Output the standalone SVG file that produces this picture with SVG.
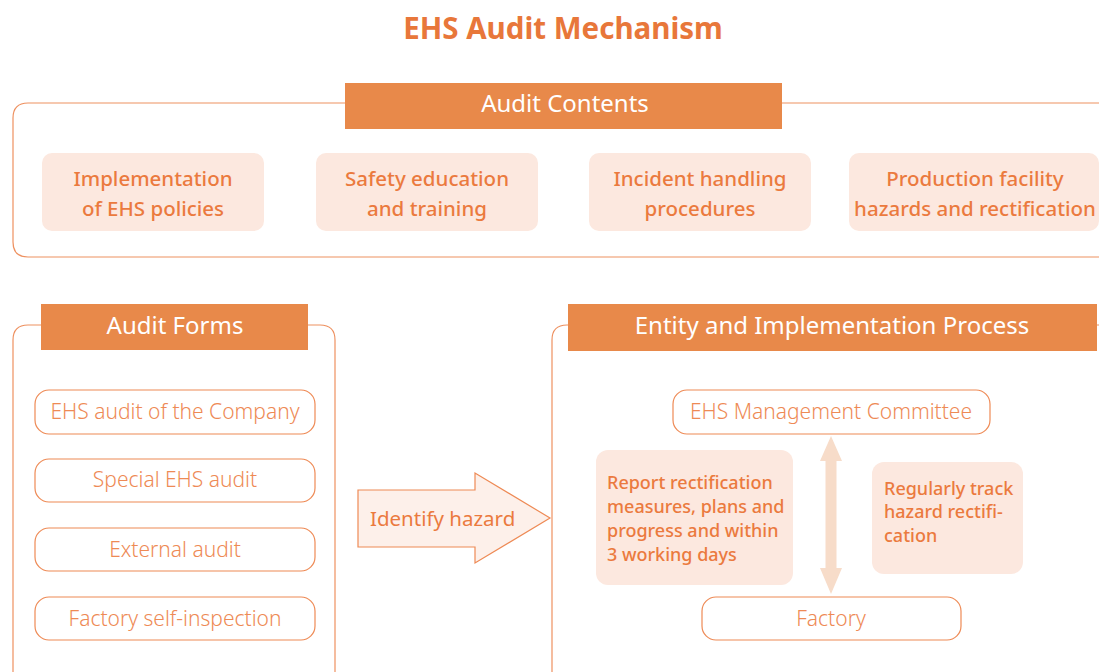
<svg xmlns="http://www.w3.org/2000/svg" width="1099" height="672" viewBox="0 0 1099 672">
<style>
text{font-family:"Noto Sans","Open Sans",sans-serif}
.title{font-size:29.5px;font-weight:bold;fill:#E8773A}
.frame{fill:none;stroke:#EE9160;stroke-width:1.2}
.hdr{fill:#E8894A}
.hdrt{font-size:24px;fill:#fff;text-anchor:middle}
.card{fill:#FCE8DF}
.cardt{font-size:20.5px;fill:#EB7A3E;text-anchor:middle;font-weight:500}
.item{fill:#fff;stroke:#EE8A55;stroke-width:1.2}
.itemt{font-size:21px;fill:#EE8A55;text-anchor:middle;font-weight:300}
.note{font-size:18px;fill:#EB7A3E;font-weight:500}
</style>
<text class="title" x="563" y="39" text-anchor="middle">EHS Audit Mechanism</text>

<g id="audit-contents">
<path class="frame" d="M345,103 H28 Q13,103 13,118 V242 Q13,257 28,257 H1099 M782,103 H1099"/>
<rect class="hdr" x="345" y="83" width="437" height="46"/>
<text class="hdrt" x="565" y="112">Audit Contents</text>
</g>
<g id="content-1">
<rect class="card" x="42" y="153" width="222" height="78" rx="10"/>
<text class="cardt" x="153" y="186">Implementation</text>
<text class="cardt" x="153" y="216">of EHS policies</text>
</g>
<g id="content-2">
<rect class="card" x="316" y="153" width="222" height="78" rx="10"/>
<text class="cardt" x="427" y="186">Safety education</text>
<text class="cardt" x="427" y="216">and training</text>
</g>
<g id="content-3">
<rect class="card" x="589" y="153" width="222" height="78" rx="10"/>
<text class="cardt" x="700" y="186">Incident handling</text>
<text class="cardt" x="700" y="216">procedures</text>
</g>
<g id="content-4">
<rect class="card" x="849" y="153" width="250" height="78" rx="10"/>
<text class="cardt" x="975" y="186">Production facility</text>
<text class="cardt" x="975" y="216">hazards and rectification</text>
</g>

<g id="audit-forms">
<path class="frame" d="M41,325 H28 Q13,325 13,340 V672 M335,672 V340 Q335,325 320,325 H308"/>
<rect class="hdr" x="41" y="304" width="267" height="46"/>
<text class="hdrt" x="175" y="334">Audit Forms</text>
</g>
<g id="form-1">
<rect class="item" x="35" y="390" width="280" height="44" rx="14"/>
<text class="itemt" x="175" y="419">EHS audit of the Company</text>
</g>
<g id="form-2">
<rect class="item" x="35" y="459" width="280" height="43" rx="14"/>
<text class="itemt" x="175" y="487">Special EHS audit</text>
</g>
<g id="form-3">
<rect class="item" x="35" y="528" width="280" height="43" rx="14"/>
<text class="itemt" x="175" y="557">External audit</text>
</g>
<g id="form-4">
<rect class="item" x="35" y="597" width="280" height="43" rx="14"/>
<text class="itemt" x="175" y="626">Factory self-inspection</text>
</g>

<g id="entity-process">
<path class="frame" d="M568,325 H567 Q552,325 552,340 V672 M1097,325 H1099"/>
<rect class="hdr" x="568" y="304" width="529" height="47"/>
<text class="hdrt" x="832" y="334">Entity and Implementation Process</text>
</g>
<g id="ehs-committee">
<rect class="item" x="673" y="390" width="317" height="44" rx="14"/>
<text class="itemt" x="831" y="419">EHS Management Committee</text>
</g>
<g id="factory">
<rect class="item" x="702" y="597" width="259" height="43" rx="14"/>
<text class="itemt" x="831" y="626">Factory</text>
</g>
<g id="report-note">
<rect class="card" x="596" y="450" width="197" height="135" rx="12"/>
<text class="note" x="607" y="489">Report rectification</text>
<text class="note" x="607" y="513">measures, plans and</text>
<text class="note" x="607" y="537">progress and within</text>
<text class="note" x="607" y="561">3 working days</text>
</g>
<g id="track-note">
<rect class="card" x="872" y="462" width="151" height="112" rx="12"/>
<text class="note" x="884" y="495">Regularly track</text>
<text class="note" x="884" y="518">hazard rectifi-</text>
<text class="note" x="884" y="542">cation</text>
</g>

<g id="connectors">
<g id="identify-hazard">
<path d="M358,490 H475 V473 L550,518 L475,563 V547 H358 Z" fill="#FDF0EA" stroke="#EE8A55" stroke-width="1.2"/>
<text x="370" y="526" font-size="20.5px" fill="#EB7A3E" font-family="Noto Sans, sans-serif">Identify hazard</text>
</g>
<path id="double-arrow" d="M831,436 L842,461 H836.5 V568 H842 L831,594 L820,568 H825.5 V461 H820 Z" fill="#F7DCC9"/>
</g>
</svg>
